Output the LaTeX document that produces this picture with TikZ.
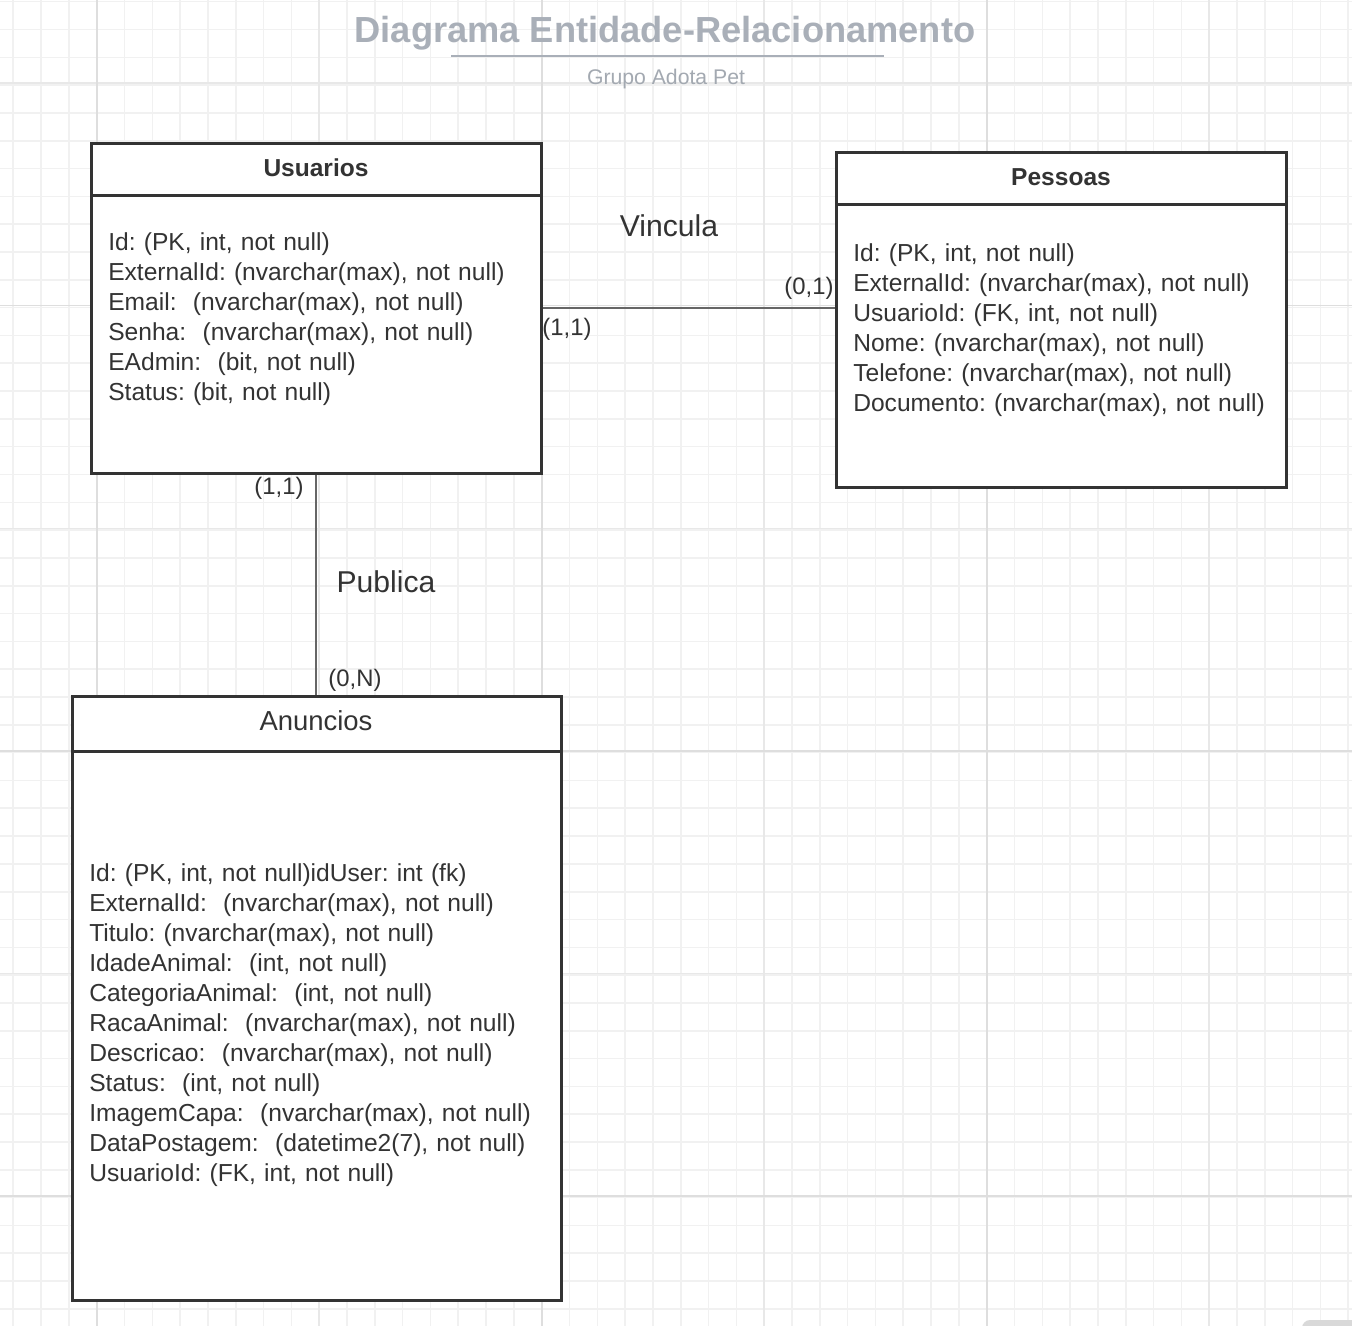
\documentclass[tikz,border=0pt]{standalone}
\usepackage{fontspec}
\setmainfont{Liberation Sans}
\frenchspacing
\usetikzlibrary{positioning}

\definecolor{inkgray}{HTML}{333333}
\definecolor{boxgray}{HTML}{333333}
\definecolor{linkgray}{HTML}{666666}
\definecolor{titlegray}{HTML}{A9AFB8}
\definecolor{subgray}{HTML}{A3A9B1}
\definecolor{gridminor}{HTML}{F1F1F1}
\definecolor{gridmid}{HTML}{E8E8E8}
\definecolor{gridmajor}{HTML}{DEDEDE}

\begin{document}
\begin{tikzpicture}[x=0.75pt, y=-0.75pt]
	\tikzstyle{Entity} = [draw=boxgray, line width=2.25pt, fill=white, inner sep=0pt]
	\tikzstyle{HeaderB} = [text=inkgray, inner sep=0pt, font=\fontsize{18.4pt}{22pt}\selectfont\bfseries]
	\tikzstyle{Header} = [text=inkgray, inner sep=0pt, font=\fontsize{20.6pt}{24pt}\selectfont]
	\tikzstyle{Attr} = [text=inkgray, text width=350pt, align=left, inner sep=0pt, text height=13.5pt, text depth=3.9pt, font=\fontsize{18.45pt}{22.5pt}\selectfont, node distance=22.5pt]
	\tikzstyle{Card} = [text=inkgray, inner sep=0pt, font=\fontsize{17.9pt}{21pt}\selectfont]
	\tikzstyle{Rel} = [text=inkgray, inner sep=0pt, font=\fontsize{22.6pt}{26pt}\selectfont]
	\tikzstyle{Link} = [draw=linkgray, line width=1.5pt]

	\useasboundingbox (0,0) rectangle (1352,1326);
	\clip (0,0) rectangle (1352,1326);
	\fill[white] (0,0) rectangle (1352,1326);

	% grid
	\foreach \i in {0,...,48}
		\draw[gridminor, line width=1.2pt] ({13.28+\i*27.8125},0) -- ++(0,1326);
	\foreach \i in {0,...,47}
		\draw[gridminor, line width=1.2pt] (0,{1.7+\i*27.8125}) -- ++(1352,0);
	\foreach \x in {319.2, 764.2, 1209.2}
		\draw[gridmid, line width=1.2pt] (\x,0) -- ++(0,1326);
	\foreach \y in {83.3, 528.3, 973.3}
		\draw[gridmid, line width=1.2pt] (0,\y) -- ++(1352,0);
	\foreach \x in {96.7, 541.7, 986.7}
		\draw[gridmajor, line width=1.2pt] (\x,0) -- ++(0,1326);
	\foreach \y in {305.7, 750.7, 1195.7}
		\draw[gridmajor, line width=1.2pt] (0,\y) -- ++(1352,0);

	% title
	\node[name=title, text=titlegray, inner sep=0pt, font=\fontsize{27.2pt}{32pt}\selectfont\bfseries] at (665,33) {Diagrama Entidade-Relacionamento};
	\draw[titlegray, line width=2.2pt] (451,56) -- (884,56);
	\node[name=subtitle, text=subgray, inner sep=0pt, font=\fontsize{15.9pt}{19pt}\selectfont] at (666,79) {Grupo Adota Pet};

	% entities
	\node[name=usuarios, Entity, minimum width=337.5pt, minimum height=246.75pt] at (316,308.5) {};
	\draw[draw=boxgray, line width=2.25pt] (91,196) -- (541,196);
	\node[name=usuariosT, HeaderB] at (316,168) {Usuarios};

	\node[name=pessoas, Entity, minimum width=337.5pt, minimum height=250.5pt] at (1061,320) {};
	\draw[draw=boxgray, line width=2.25pt] (836,205) -- (1286,205);
	\node[name=pessoasT, HeaderB] at (1061,177) {Pessoas};

	\node[name=anuncios, Entity, minimum width=366.75pt, minimum height=453pt] at (316.5,998) {};
	\draw[draw=boxgray, line width=2.25pt] (72,751) -- (561,751);
	\node[name=anunciosT, Header] at (316,721) {Anuncios};

	% Usuarios attributes
	\node[name=u1, Attr, anchor=west] at (108,244) {Id: (PK, int, not null)};
	\node[name=u2, Attr, below of=u1] {ExternalId: (nvarchar(max), not null)};
	\node[name=u3, Attr, below of=u2] {Email:~ (nvarchar(max), not null)};
	\node[name=u4, Attr, below of=u3] {Senha:~ (nvarchar(max), not null)};
	\node[name=u5, Attr, below of=u4] {EAdmin:~ (bit, not null)};
	\node[name=u6, Attr, below of=u5] {Status: (bit, not null)};

	% Pessoas attributes
	\node[name=p1, Attr, anchor=west] at (853,255) {Id: (PK, int, not null)};
	\node[name=p2, Attr, below of=p1] {ExternalId: (nvarchar(max), not null)};
	\node[name=p3, Attr, below of=p2] {UsuarioId: (FK, int, not null)};
	\node[name=p4, Attr, below of=p3] {Nome: (nvarchar(max), not null)};
	\node[name=p5, Attr, below of=p4] {Telefone: (nvarchar(max), not null)};
	\node[name=p6, Attr, below of=p5] {Documento: (nvarchar(max), not null)};

	% Anuncios attributes
	\node[name=a1, Attr, anchor=west] at (89,875) {Id: (PK, int, not null)idUser: int (fk)};
	\node[name=a2, Attr, below of=a1] {ExternalId:~ (nvarchar(max), not null)};
	\node[name=a3, Attr, below of=a2] {Titulo: (nvarchar(max), not null)};
	\node[name=a4, Attr, below of=a3] {IdadeAnimal:~ (int, not null)};
	\node[name=a5, Attr, below of=a4] {CategoriaAnimal:~ (int, not null)};
	\node[name=a6, Attr, below of=a5] {RacaAnimal:~ (nvarchar(max), not null)};
	\node[name=a7, Attr, below of=a6] {Descricao:~ (nvarchar(max), not null)};
	\node[name=a8, Attr, below of=a7] {Status:~ (int, not null)};
	\node[name=a9, Attr, below of=a8] {ImagemCapa:~ (nvarchar(max), not null)};
	\node[name=a10, Attr, below of=a9] {DataPostagem:~ (datetime2(7), not null)};
	\node[name=a11, Attr, below of=a10] {UsuarioId: (FK, int, not null)};

	% relationships
	\draw[Link] (usuarios.east) -- (usuarios.east -| pessoas.west);
	\draw[Link] (usuarios.south) -- (usuarios.south |- anuncios.north);

	\node[name=vincula, Rel] at (669,226) {Vincula};
	\node[name=publica, Rel] at (386,582) {Publica};

	\node[name=c1, Card] at (567,329) {(1,1)};
	\node[name=c2, Card] at (809,288) {(0,1)};
	\node[name=c3, Card] at (279,488) {(1,1)};
	\node[name=c4, Card] at (355,680) {(0,N)};

	% corner widget
	\fill[gray!30, rounded corners=6pt] (1302,1320) rectangle (1420,1370);
\end{tikzpicture}
\end{document}
